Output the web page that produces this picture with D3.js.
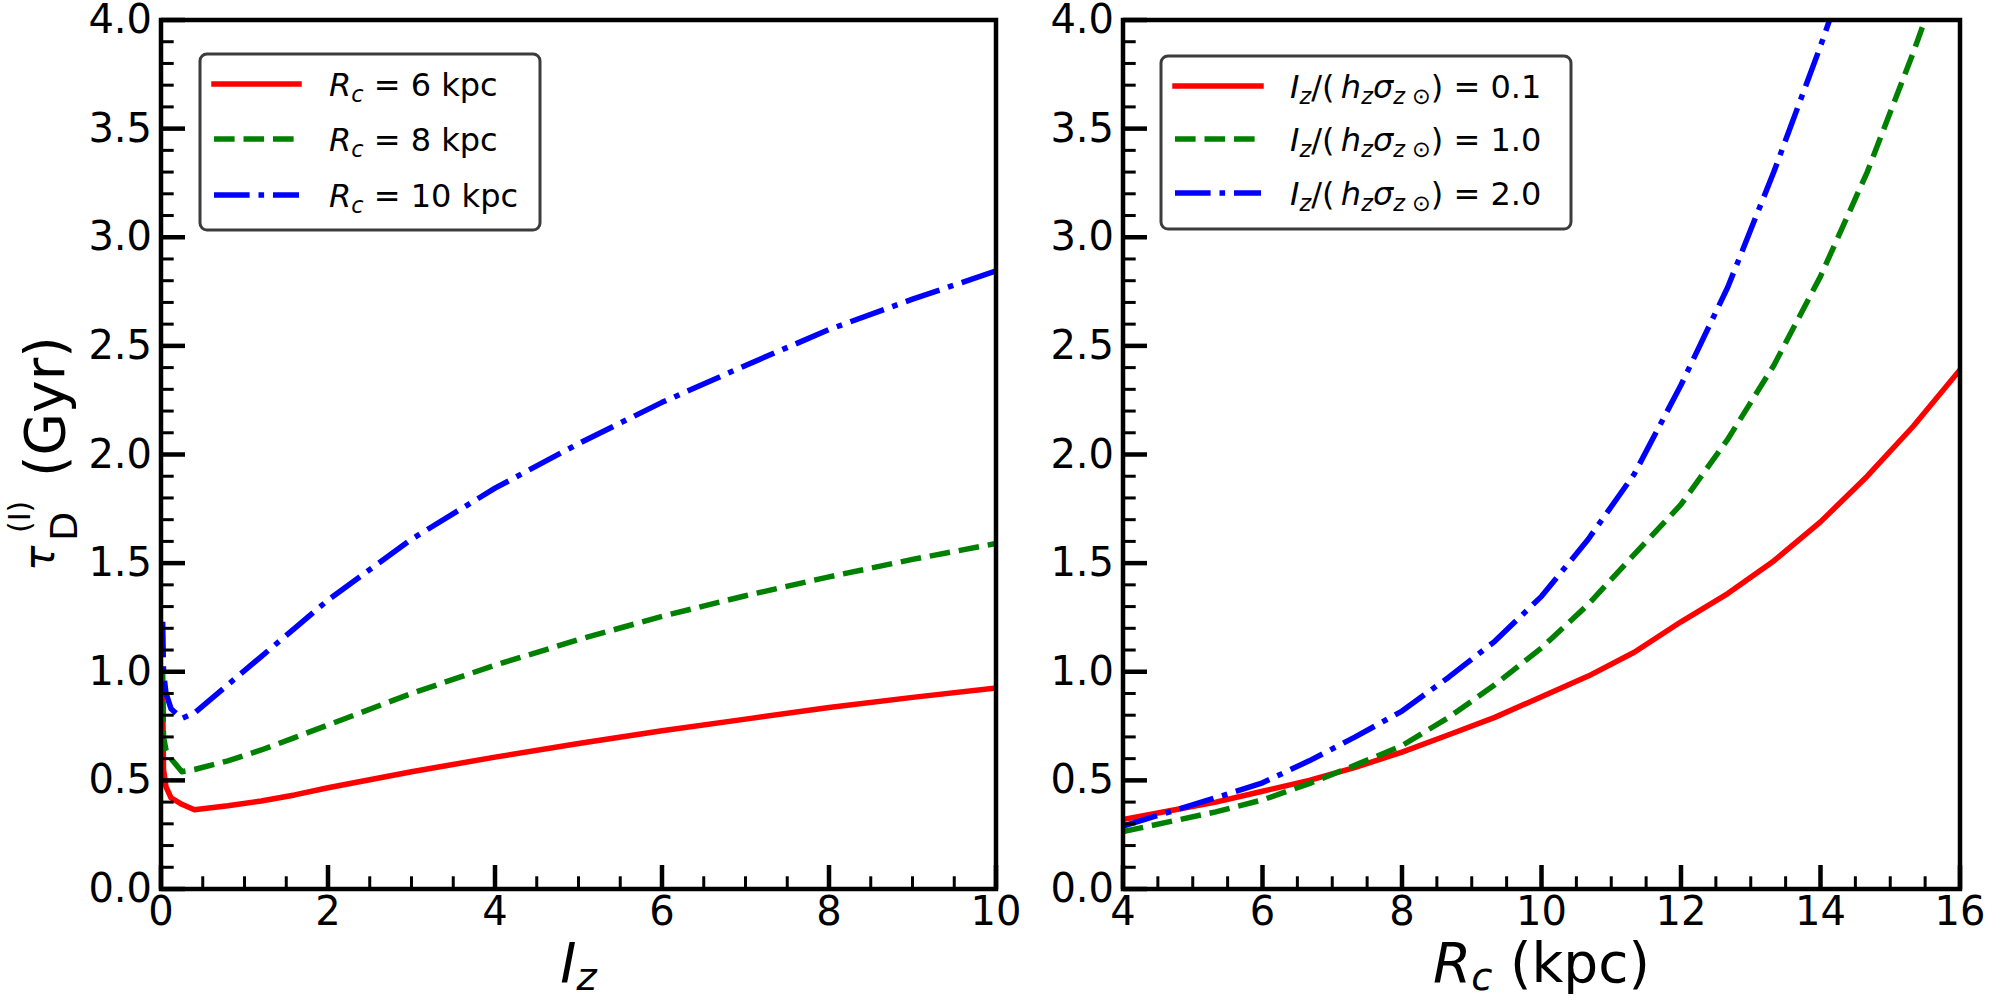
<!DOCTYPE html>
<html>
<head>
<meta charset="utf-8">
<script src="https://cdn.jsdelivr.net/npm/d3@7"></script>
<style>
  body { margin: 0; background: #fff; }
  text { font-family: "DejaVu Sans", sans-serif; white-space: pre; }
</style>
</head>
<body>
<svg id="chart" width="2000" height="1000"></svg>
<script>
// ---- data ----
const yTicks = [0, 0.5, 1, 1.5, 2, 2.5, 3, 3.5, 4];
const lzTicks = [0, 2, 4, 6, 8, 10];
const rcTicks = [4, 6, 8, 10, 12, 14, 16];

// left panel: tau vs I_z
const lzGrid = [0.02, 0.03, 0.06, 0.12, 0.25, 0.4, 0.8, 1.2, 1.6, 2, 3, 4, 5, 6, 7, 8, 9, 10];
const tauRc6  = [0.90, 0.55, 0.47, 0.42, 0.39, 0.365, 0.383, 0.405, 0.433, 0.466, 0.54, 0.607, 0.67, 0.728, 0.782, 0.835, 0.882, 0.925];
const tauRc8  = [1.0, 0.70, 0.64, 0.60, 0.54, 0.55, 0.59, 0.64, 0.697, 0.755, 0.90, 1.03, 1.148, 1.255, 1.35, 1.437, 1.517, 1.59];
const tauRc10 = [1.23, 1.0, 0.9, 0.83, 0.785, 0.81, 0.94, 1.07, 1.2, 1.33, 1.61, 1.845, 2.05, 2.24, 2.41, 2.575, 2.715, 2.845];

// right panel: tau vs R_c
const rcGrid = [4, 4.67, 5.33, 6, 6.67, 7.33, 8, 8.67, 9.33, 10, 10.67, 11.33, 12, 12.67, 13.33, 14, 14.67, 15.33, 16];
const tauIz01 = [0.32, 0.36, 0.40, 0.45, 0.50, 0.56, 0.63, 0.71, 0.79, 0.885, 0.98, 1.09, 1.23, 1.36, 1.51, 1.69, 1.90, 2.13, 2.39];
const tauIz10 = [0.264, 0.31, 0.355, 0.41, 0.485, 0.57, 0.66, 0.79, 0.94, 1.11, 1.31, 1.54, 1.77, 2.07, 2.41, 2.82, 3.30, 3.85, 4.45];
const tauIz20 = [0.29, 0.355, 0.42, 0.489, 0.59, 0.70, 0.819, 0.975, 1.14, 1.347, 1.61, 1.91, 2.32, 2.77, 3.30, 3.88, 4.5, 5.2, 6.0];

const rcLabels = ["6", "8", "10"];
const izLabels = ["0.1", "1.0", "2.0"];

const svg = d3.select("#chart");
const defs = svg.append("defs");
const plotTop = 20, plotBottom = 889;
const lw = 5.5;
const styles = {
  solid:   { color: "#ff0000", dash: null, cap: "square" },
  dashed:  { color: "#008000", dash: "20.6,8.9", cap: "butt" },
  dashdot: { color: "#0000ff", dash: "35.6,8.9,5.6,8.9", cap: "butt" }
};

const panels = [
  {
    id: "clipL", left: 161, right: 996, xDomain: [0, 10], xTicks: lzTicks, xMinor: d3.range(0, 10.01, 0.5),
    series: [
      { x: lzGrid, y: tauRc6, s: "solid" },
      { x: lzGrid, y: tauRc8, s: "dashed" },
      { x: lzGrid, y: tauRc10, s: "dashdot" }
    ],
    legend: { x0: 200, y0: 54, x1: 540, y1: 230, hx0: 214, hx1: 299, rows: [84, 139, 195] }
  },
  {
    id: "clipR", left: 1123, right: 1960, xDomain: [4, 16], xTicks: rcTicks, xMinor: d3.range(4, 16.01, 0.5),
    series: [
      { x: rcGrid, y: tauIz01, s: "solid" },
      { x: rcGrid, y: tauIz10, s: "dashed" },
      { x: rcGrid, y: tauIz20, s: "dashdot" }
    ],
    legend: { x0: 1161, y0: 56, x1: 1571, y1: 229, hx0: 1175, hx1: 1261, rows: [86, 139, 193] }
  }
];
const yMinor = d3.range(0, 4.001, 0.1);
const tickLayer = [];

panels.forEach(p => {
  const x = d3.scaleLinear().domain(p.xDomain).range([p.left, p.right]);
  const y = d3.scaleLinear().domain([0, 4]).range([plotBottom, plotTop]);

  defs.append("clipPath").attr("id", p.id).append("rect")
    .attr("x", p.left).attr("y", plotTop).attr("width", p.right - p.left).attr("height", plotBottom - plotTop);

  const curves = svg.append("g").attr("clip-path", `url(#${p.id})`);
  const line = d3.line().x(d => x(d[0])).y(d => y(d[1]));
  p.series.forEach(sr => {
    const st = styles[sr.s];
    curves.append("path")
      .attr("d", line(sr.x.map((v, i) => [v, sr.y[i]])))
      .attr("fill", "none").attr("stroke", st.color).attr("stroke-width", lw)
      .attr("stroke-dasharray", st.dash).attr("stroke-linejoin", "round")
      .attr("stroke-linecap", st.cap);
  });

  // tick labels
  svg.append("g").selectAll("text").data(p.xTicks).join("text")
    .attr("x", d => x(d)).attr("y", plotBottom + 36).attr("text-anchor", "middle")
    .attr("font-size", 40).text(d3.format("d"));
  svg.append("g").selectAll("text").data(yTicks).join("text")
    .attr("x", p.left - 9).attr("y", d => y(d) + 13).attr("text-anchor", "end")
    .attr("font-size", 40).text(d3.format(".1f"));

  // legend frame + handles
  const L = p.legend;
  svg.append("rect")
    .attr("x", L.x0).attr("y", L.y0).attr("width", L.x1 - L.x0).attr("height", L.y1 - L.y0)
    .attr("rx", 7).attr("fill", "#fff").attr("fill-opacity", 0.8)
    .attr("stroke", "#3c3c3c").attr("stroke-width", 3);
  p.series.forEach((sr, i) => {
    const st = styles[sr.s];
    svg.append("line")
      .attr("x1", L.hx0).attr("x2", L.hx1).attr("y1", L.rows[i]).attr("y2", L.rows[i])
      .attr("stroke", st.color).attr("stroke-width", lw)
      .attr("stroke-dasharray", st.dash).attr("stroke-linecap", st.cap);
  });

  // inward ticks (left + bottom) as small filled bars
  p.xMinor.forEach(d => tickLayer.push({ x: x(d) - 1.5, y: plotBottom - 12.7, w: 3, h: 12.7 }));
  yMinor.forEach(d => tickLayer.push({ x: p.left, y: y(d) - 1.5, w: 12.7, h: 3 }));
  p.xTicks.forEach(d => tickLayer.push({ x: x(d) - 2.25, y: plotBottom - 24, w: 4.5, h: 24 }));
  yTicks.forEach(d => tickLayer.push({ x: p.left, y: y(d) - 2.25, w: 24, h: 4.5 }));

  // spines
  svg.append("rect")
    .attr("x", p.left).attr("y", plotTop).attr("width", p.right - p.left).attr("height", plotBottom - plotTop)
    .attr("fill", "none").attr("stroke", "#000").attr("stroke-width", 4.5);
});

// ---- mathtext-like labels ----
function mathLabel(x, yBase, parts, size, sub, shift) {
  const t = svg.append("text").attr("x", x).attr("y", yBase).attr("font-size", size).attr("fill", "#000");
  let cur = 0;
  parts.forEach(pt => {
    const want = pt.sub ? shift : 0;
    t.append("tspan")
      .attr("dy", want - cur)
      .attr("font-size", pt.sub ? sub : size)
      .attr("font-style", pt.it ? "italic" : "normal")
      .text(pt.t);
    cur = want;
  });
  return t;
}

rcLabels.forEach((v, i) => {
  mathLabel(329, panels[0].legend.rows[i] + 11.5, [
    { t: "R", it: true }, { t: "c", it: true, sub: true }, { t: " = " + v + " kpc" }
  ], 32, 22.4, 6);
});

izLabels.forEach((v, i) => {
  mathLabel(1290, panels[1].legend.rows[i] + 11.5, [
    { t: "I", it: true }, { t: "z", it: true, sub: true }, { t: "/(\u2009" },
    { t: "h", it: true }, { t: "z", it: true, sub: true }, { t: "\u03c3", it: true },
    { t: "z \u2299", it: true, sub: true }, { t: ") = " + v }
  ], 32, 22.4, 6);
});

function centerText(t, cx) {
  const w = t.node().getComputedTextLength();
  t.attr("x", cx - w / 2);
}
centerText(mathLabel(0, 982, [{ t: "I", it: true }, { t: "z", it: true, sub: true }], 55, 38.5, 8), (161 + 996) / 2);
centerText(mathLabel(0, 982, [{ t: "R", it: true }, { t: "c", it: true, sub: true }, { t: " (kpc)" }], 55, 38.5, 8), (1123 + 1960) / 2);

// y label: tau_D^(I) (Gyr), rotated
const yl = svg.append("g").attr("transform", "rotate(-90)");
yl.append("text").attr("x", -571).attr("y", 54).attr("font-size", 42).attr("font-style", "italic").text("\u03c4");
yl.append("text").attr("x", -541).attr("y", 77).attr("font-size", 38).text("D");
yl.append("text").attr("x", -533).attr("y", 30).attr("font-size", 30).text("(I)");
yl.append("text").attr("x", -477).attr("y", 64).attr("font-size", 55).text("(Gyr)");

// tick marks on top of everything
svg.append("g").selectAll("rect").data(tickLayer).join("rect")
  .attr("x", d => d.x).attr("y", d => d.y).attr("width", d => d.w).attr("height", d => d.h)
  .attr("fill", "#000");
</script>
</body>
</html>
